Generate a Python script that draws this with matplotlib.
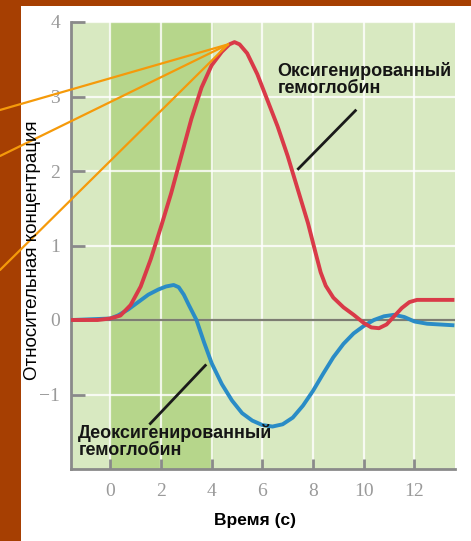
import matplotlib
matplotlib.use("Agg")
import matplotlib.pyplot as plt
from matplotlib.patches import Rectangle

plt.rcParams["font.family"] = "Liberation Serif"

# values
t_oxy = [-1.5, -0.5, 0.0, 0.4, 0.8, 1.2, 1.6, 2.0, 2.4, 2.8, 3.2, 3.6, 4.0, 4.4,
         4.7, 4.9, 5.1, 5.4, 5.8, 6.2, 6.6, 7.0, 7.4, 7.8, 8.1, 8.3, 8.5, 8.8,
         9.2, 9.6, 10.0, 10.3, 10.6, 10.9, 11.2, 11.5, 11.8, 12.1, 12.5, 13.5]
v_oxy = [0.0, 0.0, 0.02, 0.06, 0.2, 0.45, 0.82, 1.25, 1.7, 2.2, 2.7, 3.12, 3.42, 3.6,
         3.7, 3.73, 3.7, 3.58, 3.3, 2.95, 2.6, 2.2, 1.75, 1.3, 0.9, 0.64, 0.46, 0.3,
         0.17, 0.07, -0.04, -0.1, -0.11, -0.06, 0.05, 0.16, 0.24, 0.27, 0.27, 0.27]
t_deoxy = [-1.5, 0.0, 0.3, 0.7, 1.1, 1.5, 1.9, 2.2, 2.5, 2.7, 2.9, 3.1, 3.4, 3.7,
           4.0, 4.4, 4.8, 5.2, 5.6, 6.0, 6.4, 6.8, 7.2, 7.6, 8.0, 8.4, 8.8, 9.2,
           9.6, 10.0, 10.4, 10.8, 11.2, 11.6, 12.0, 12.5, 13.5]
v_deoxy = [0.0, 0.02, 0.06, 0.14, 0.24, 0.34, 0.41, 0.45, 0.47, 0.44, 0.34, 0.2, 0.0,
           -0.3, -0.58, -0.86, -1.08, -1.25, -1.35, -1.41, -1.43, -1.4, -1.31, -1.15,
           -0.95, -0.72, -0.5, -0.32, -0.18, -0.08, 0.0, 0.05, 0.07, 0.04, -0.02,
           -0.05, -0.07]
stim_start, stim_end = 0, 4
xticks = [0, 2, 4, 6, 8, 10, 12]
yticks = [-1, 0, 1, 2, 3, 4]
ytick_labels = ["\u22121", "0", "1", "2", "3", "4"]

fig = plt.figure(figsize=(4.71, 5.41), dpi=100)
fig.patch.set_facecolor("#a63f02")
fig.patches.append(Rectangle((21 / 471, 0), 1, 1 - 6 / 541, transform=fig.transFigure,
                             facecolor="white", edgecolor="none", zorder=-10))

ax = fig.add_axes([71 / 471, 1 - 469 / 541, (455 - 71) / 471, (469 - 22) / 541])
ax.set_xlim(-1.55, 13.6)
ax.set_ylim(-2, 4)
ax.set_facecolor("#d8e9c1")
ax.axvspan(stim_start, stim_end, color="#b6d68b", zorder=0)

for x in xticks:
    ax.axvline(x, color="white", lw=1.6, alpha=0.8, zorder=1)
for y in yticks:
    ax.axhline(y, color="white", lw=1.6, alpha=0.8, zorder=1)
ax.axhline(0, color="#7d7d72", lw=1.6, zorder=2)

ax.plot(t_oxy, v_oxy, color="#d93a48", lw=2.8, zorder=4, solid_joinstyle="round")
ax.plot(t_deoxy, v_deoxy, color="#2a8cc6", lw=2.8, zorder=3, solid_joinstyle="round")

for s in ["top", "right"]:
    ax.spines[s].set_visible(False)
for s in ["left", "bottom"]:
    ax.spines[s].set_color("#8a8a8a")
    ax.spines[s].set_linewidth(2)

ax.set_xticks(xticks)
ax.set_yticks(yticks)
ax.set_yticklabels(ytick_labels)
ax.tick_params(axis="y", direction="in", length=10, width=2, color="#8a8a8a",
               labelcolor="#9a9a9a", labelsize=14, pad=8)
ax.tick_params(axis="x", direction="in", length=7, width=2, color="#8a8a8a",
               labelcolor="#9a9a9a", labelsize=14, pad=10)

sans = "Liberation Sans"
ax.text(6.6, 3.46, "Оксигенированный\nгемоглобин", fontsize=13, family=sans,
        fontweight="bold", color="#151515", ha="left", va="top", linespacing=1.0,
        zorder=6)
ax.plot([9.67, 7.42], [2.81, 2.03], color="#1a1a1a", lw=2, zorder=6)
ax.text(-1.26, -1.40, "Деоксигенированный\nгемоглобин", fontsize=13, family=sans,
        fontweight="bold", color="#151515", ha="left", va="top", linespacing=1.0,
        zorder=6)
ax.plot([3.75, 1.58], [-0.61, -1.39], color="#1a1a1a", lw=2, zorder=6)

fig.text(33 / 471, 1 - 250 / 541, "Относительная концентрация", rotation=90,
         fontsize=13.5, family=sans, ha="center", va="center")
fig.text(255 / 471, 1 - 521 / 541, "Время (с)", fontsize=12.5, family=sans,
         fontweight="bold", ha="center", va="center")

# orange pointer lines from the peak of the red curve to the left edge
ipk = v_oxy.index(max(v_oxy))
pk = (t_oxy[ipk] - 0.25, v_oxy[ipk] - 0.03)
for yend in [110, 156, 270]:
    ax.annotate("", xy=pk, xycoords="data", xytext=(0, 1 - yend / 541),
                textcoords="figure fraction",
                arrowprops=dict(arrowstyle="-", color="#f59a0a", lw=1.6,
                                shrinkA=0, shrinkB=0), zorder=7, annotation_clip=False)

fig.savefig("out.png", dpi=100, facecolor=fig.get_facecolor())
